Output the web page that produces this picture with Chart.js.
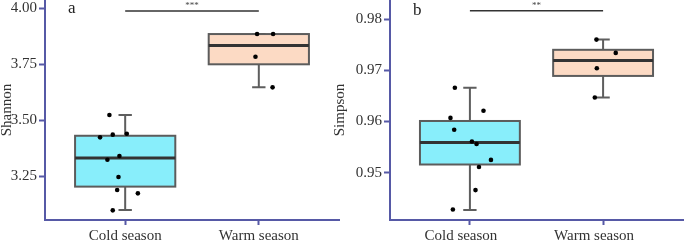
<!DOCTYPE html>
<html>
<head>
<meta charset="utf-8">
<script src="https://cdn.jsdelivr.net/npm/chart.js@4"></script>
<style>
html, body { margin: 0; padding: 0; background: #fff; }
#wrap { position: relative; width: 685px; height: 244px; }
canvas { position: absolute; left: 0; top: 0; }
</style>
</head>
<body>
<div id="wrap">
  <canvas id="chartA" width="685" height="244"></canvas>
  <canvas id="chartB" width="685" height="244"></canvas>
</div>
<script>
var groups = ['Cold season', 'Warm season'];

/* ---- panel a : Shannon ---- */
var shannonCold = [3.524, 3.436, 3.440, 3.424, 3.341, 3.324, 3.247, 3.189, 3.174, 3.098];
var shannonColdJitter = [-0.118, -0.093, 0.012, -0.188, -0.043, -0.133, -0.050, -0.060, 0.095, -0.093];
var shannonWarm = [3.885, 3.885, 3.784, 3.647];
var shannonWarmJitter = [-0.013, 0.107, -0.025, 0.103];
var shannonLow = [3.100, 3.647];
var shannonQ1 = [3.204, 3.750];
var shannonMed = [3.332, 3.834];
var shannonQ3 = [3.431, 3.885];
var shannonHigh = [3.524, 3.885];
var shannonTicks = [3.25, 3.50, 3.75, 4.00];

/* ---- panel b : Simpson ---- */
var simpsonCold = [0.9666, 0.9621, 0.9607, 0.9584, 0.9561, 0.9556, 0.9525, 0.9511, 0.9466, 0.9428];
var simpsonColdJitter = [-0.113, 0.102, -0.146, -0.118, 0.015, 0.050, 0.158, 0.068, 0.042, -0.128];
var simpsonWarm = [0.9760, 0.9734, 0.9704, 0.9647];
var simpsonWarmJitter = [-0.050, 0.095, -0.047, -0.062];
var simpsonLow = [0.9427, 0.9647];
var simpsonQ1 = [0.9516, 0.9689];
var simpsonMed = [0.9559, 0.9719];
var simpsonQ3 = [0.9601, 0.9740];
var simpsonHigh = [0.9666, 0.9760];
var simpsonTicks = [0.95, 0.96, 0.97, 0.98];

var SERIF = "'Liberation Serif', 'Times New Roman', serif";
var AXIS = '#5659a6';
var TEXT = '#333';
var FILLS = ['#88eefb', '#fcdac4'];
var BOX_W = 0.75, CAP_W = 0.1;

function points(vals, jit, idx) {
  return vals.map(function (v, i) { return {x: idx + jit[i], y: v}; });
}

function boxPlugin(low, q1, med, q3, high) {
  return {
    id: 'boxes',
    beforeDatasetsDraw: function (chart) {
      var ctx = chart.ctx, xs = chart.scales.x, ys = chart.scales.y;
      ctx.save();
      for (var i = 0; i < q1.length; i++) {
        var xc = xs.getPixelForValue(i);
        var xl = xs.getPixelForValue(i - BOX_W / 2), xr = xs.getPixelForValue(i + BOX_W / 2);
        var cl = xs.getPixelForValue(i - CAP_W / 2), cr = xs.getPixelForValue(i + CAP_W / 2);
        var yLo = ys.getPixelForValue(low[i]), yQ1 = ys.getPixelForValue(q1[i]);
        var yMd = ys.getPixelForValue(med[i]), yQ3 = ys.getPixelForValue(q3[i]);
        var yHi = ys.getPixelForValue(high[i]);
        // whiskers
        ctx.strokeStyle = '#5e5e5e';
        ctx.lineWidth = 2;
        ctx.beginPath();
        ctx.moveTo(xc, yQ3); ctx.lineTo(xc, yHi);
        ctx.moveTo(cl, yHi); ctx.lineTo(cr, yHi);
        ctx.moveTo(xc, yQ1); ctx.lineTo(xc, yLo);
        ctx.moveTo(cl, yLo); ctx.lineTo(cr, yLo);
        ctx.stroke();
        // box
        ctx.fillStyle = FILLS[i];
        ctx.fillRect(xl, yQ3, xr - xl, yQ1 - yQ3);
        ctx.strokeStyle = '#5c5c5c';
        ctx.lineWidth = 2;
        ctx.strokeRect(xl, yQ3, xr - xl, yQ1 - yQ3);
        // median
        ctx.strokeStyle = '#333';
        ctx.lineWidth = 3;
        ctx.beginPath();
        ctx.moveTo(xl, yMd); ctx.lineTo(xr, yMd);
        ctx.stroke();
      }
      ctx.restore();
    }
  };
}

function notePlugin(letter, sigLevel, stars) {
  return {
    id: 'notes',
    afterDraw: function (chart) {
      var ctx = chart.ctx, xs = chart.scales.x, ys = chart.scales.y;
      var x0 = xs.getPixelForValue(0), x1 = xs.getPixelForValue(1);
      var y = ys.getPixelForValue(sigLevel);
      ctx.save();
      ctx.strokeStyle = '#333';
      ctx.lineWidth = 1.5;
      ctx.beginPath();
      ctx.moveTo(x0, y); ctx.lineTo(x1, y);
      ctx.stroke();
      ctx.fillStyle = '#444';
      ctx.textAlign = 'center';
      ctx.textBaseline = 'alphabetic';
      ctx.font = '9px ' + SERIF;
      ctx.fillText(stars, (x0 + x1) / 2, y - 3);
      ctx.fillStyle = '#222';
      ctx.textAlign = 'left';
      ctx.font = '17px ' + SERIF;
      ctx.fillText(letter, chart.chartArea.left + 23, letter === 'a' ? 13 : 15);
      ctx.restore();
    }
  };
}

function makeChart(id, cfg) {
  return new Chart(id, {
    type: 'scatter',
    data: {
      datasets: [{
        data: points(cfg.cold, cfg.coldJit, 0).concat(points(cfg.warm, cfg.warmJit, 1)),
        backgroundColor: '#000',
        borderWidth: 0,
        pointRadius: 2.3
      }]
    },
    options: {
      responsive: false,
      animation: false,
      layout: {autoPadding: false, padding: {left: cfg.padLeft, right: cfg.padRight, top: 0, bottom: 0}},
      plugins: {legend: {display: false}, tooltip: {enabled: false}},
      scales: {
        x: {
          type: 'linear', min: -0.6, max: 1.6,
          afterBuildTicks: function (s) { s.ticks = [{value: 0}, {value: 1}]; },
          afterFit: function (s) { s.height = 24; s.paddingLeft = 0; s.paddingRight = 0; },
          ticks: {
            callback: function (v) { return groups[v]; },
            font: {family: SERIF, size: 15}, color: TEXT, padding: 2,
            labelOffset: cfg.labelOffset, autoSkip: false, maxRotation: 0
          },
          grid: {drawOnChartArea: false, tickLength: 5, tickColor: AXIS, tickWidth: 2},
          border: {color: AXIS, width: 2}
        },
        y: {
          min: cfg.min, max: cfg.max,
          afterBuildTicks: function (s) { s.ticks = cfg.ticks.map(function (v) { return {value: v}; }); },
          afterFit: function (s) { s.width = cfg.axisWidth; s.paddingTop = 0; s.paddingBottom = 0; },
          ticks: {
            callback: function (v) { return v.toFixed(2); },
            font: {family: SERIF, size: 15}, color: TEXT, padding: 2
          },
          title: {display: true, text: cfg.title, font: {family: SERIF, size: 15, lineHeight: 1}, color: TEXT, padding: 0},
          grid: {drawOnChartArea: false, tickLength: 6, tickColor: AXIS, tickWidth: 2},
          border: {color: AXIS, width: 2}
        }
      }
    },
    plugins: [boxPlugin(cfg.low, cfg.q1, cfg.med, cfg.q3, cfg.high), notePlugin(cfg.letter, cfg.sig, cfg.stars)]
  });
}

makeChart('chartA', {
  cold: shannonCold, coldJit: shannonColdJitter, warm: shannonWarm, warmJit: shannonWarmJitter,
  low: shannonLow, q1: shannonQ1, med: shannonMed, q3: shannonQ3, high: shannonHigh,
  ticks: shannonTicks, min: 3.055, max: 4.037, title: 'Shannon',
  letter: 'a', sig: 3.988, stars: '***',
  padLeft: 0, padRight: 346, axisWidth: 45, labelOffset: 0
});

makeChart('chartB', {
  cold: simpsonCold, coldJit: simpsonColdJitter, warm: simpsonWarm, warmJit: simpsonWarmJitter,
  low: simpsonLow, q1: simpsonQ1, med: simpsonMed, q3: simpsonQ3, high: simpsonHigh,
  ticks: simpsonTicks, min: 0.94076, max: 0.98373, title: 'Simpson',
  letter: 'b', sig: 0.98162, stars: '**',
  padLeft: 333, padRight: 2, axisWidth: 57, labelOffset: -9
});
</script>
</body>
</html>
